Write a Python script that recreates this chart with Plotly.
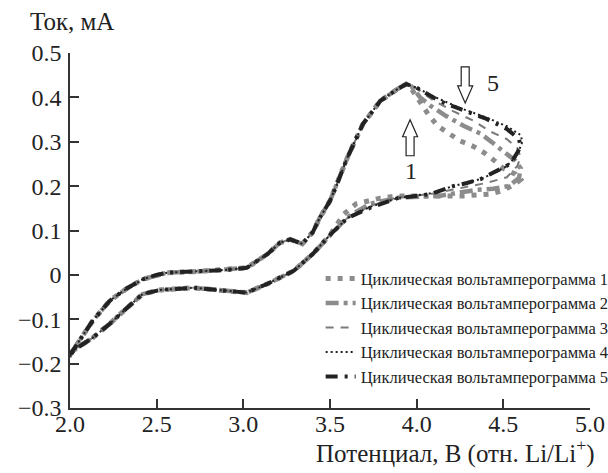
import plotly.graph_objects as go

# common anodic branch (rising part, up to the peak)
anodic_x = [2.00, 2.05, 2.13, 2.23, 2.33, 2.42, 2.50, 2.56, 2.71, 2.90, 3.02, 3.14, 3.21, 3.27, 3.34, 3.40, 3.44, 3.50, 3.54, 3.60, 3.69, 3.79, 3.89, 3.94]
anodic_y = [-0.180, -0.150, -0.104, -0.058, -0.030, -0.010, 0.000, 0.005, 0.007, 0.011, 0.016, 0.047, 0.072, 0.080, 0.070, 0.096, 0.128, 0.167, 0.204, 0.264, 0.340, 0.392, 0.419, 0.430]

# common cathodic branch (return part, from 3.5 V down to 2.0 V)
cathodic_x = [3.50, 3.40, 3.29, 3.14, 3.02, 2.90, 2.71, 2.52, 2.42, 2.33, 2.23, 2.13, 2.02, 2.00]
cathodic_y = [0.090, 0.047, 0.009, -0.020, -0.040, -0.036, -0.029, -0.034, -0.043, -0.074, -0.110, -0.142, -0.170, -0.185]

# curve-specific parts (after the peak, turning at 4.6 V and back)
tail1_x = [3.96, 4.02, 4.07, 4.12, 4.18, 4.25, 4.33, 4.39, 4.45, 4.50, 4.57, 4.60, 4.57, 4.49, 4.42, 4.27, 4.08, 3.89, 3.79, 3.65, 3.58]
tail1_y = [0.425, 0.387, 0.360, 0.336, 0.319, 0.302, 0.289, 0.275, 0.257, 0.240, 0.227, 0.215, 0.205, 0.189, 0.182, 0.178, 0.178, 0.178, 0.173, 0.160, 0.137]

tail2_x = [3.97, 4.02, 4.08, 4.17, 4.27, 4.37, 4.44, 4.51, 4.57, 4.60, 4.59, 4.53, 4.44, 4.35, 4.23, 4.13, 3.89, 3.73, 3.60]
tail2_y = [0.425, 0.400, 0.381, 0.358, 0.336, 0.318, 0.297, 0.275, 0.257, 0.240, 0.218, 0.200, 0.194, 0.192, 0.184, 0.178, 0.174, 0.160, 0.130]

tail3_x = [4.00, 4.10, 4.21, 4.33, 4.42, 4.52, 4.58, 4.60, 4.58, 4.52, 4.40, 4.25, 4.08, 3.89, 3.73, 3.60]
tail3_y = [0.420, 0.392, 0.369, 0.347, 0.324, 0.306, 0.286, 0.265, 0.245, 0.220, 0.207, 0.195, 0.182, 0.175, 0.155, 0.128]

tail4_x = [4.00, 4.08, 4.25, 4.40, 4.52, 4.60, 4.61, 4.58, 4.52, 4.46, 4.37, 4.21, 4.08, 3.89, 3.73, 3.60]
tail4_y = [0.422, 0.405, 0.376, 0.355, 0.335, 0.315, 0.300, 0.270, 0.245, 0.232, 0.216, 0.200, 0.184, 0.173, 0.153, 0.128]

tail5_x = [4.00, 4.08, 4.13, 4.25, 4.40, 4.52, 4.59, 4.60, 4.58, 4.54, 4.46, 4.37, 4.29, 4.21, 4.08, 3.89, 3.73, 3.60]
tail5_y = [0.422, 0.405, 0.392, 0.374, 0.352, 0.329, 0.306, 0.290, 0.275, 0.250, 0.234, 0.216, 0.207, 0.200, 0.182, 0.173, 0.151, 0.128]

names = ["Циклическая вольтамперограмма 1", "Циклическая вольтамперограмма 2",
         "Циклическая вольтамперограмма 3", "Циклическая вольтамперограмма 4",
         "Циклическая вольтамперограмма 5"]

x_ticks = [2.0, 2.5, 3.0, 3.5, 4.0, 4.5, 5.0]
x_ticktext = ["2.0", "2.5", "3.0", "3.5", "4.0", "4.5", "5.0"]
y_ticks = [0.5, 0.4, 0.3, 0.2, 0.1, 0.0, -0.1, -0.2, -0.3]
y_ticktext = ["0.5", "0.4", "0.3", "0.2", "0.1", "0", "−0.1", "−0.2", "−0.3"]

tails = [(tail1_x, tail1_y), (tail2_x, tail2_y), (tail3_x, tail3_y), (tail4_x, tail4_y), (tail5_x, tail5_y)]
styles = [
    dict(color="#8c8c8c", width=5, dash="5px,7px"),
    dict(color="#8c8c8c", width=4.5, dash="13px,5px,4px,5px"),
    dict(color="#7a7a7a", width=2, dash="8px,7px"),
    dict(color="#1e1e1e", width=2, dash="2px,3px"),
    dict(color="#222222", width=4, dash="12px,7px,3px,7px"),
]

fig = go.Figure()
for i, ((tx, ty), st) in enumerate(zip(tails, styles)):
    xs = anodic_x + tx + cathodic_x
    ys = anodic_y + ty + cathodic_y
    fig.add_trace(go.Scatter(x=xs, y=ys, mode="lines", name=names[i], line=st))

serif = "Liberation Serif"
ink = "#222222"

fig.update_layout(
    width=608, height=473,
    margin=dict(l=70, r=18, t=53, b=65, autoexpand=False),
    paper_bgcolor="white", plot_bgcolor="white",
    font=dict(family=serif, color=ink, size=22),
    showlegend=True,
    legend=dict(x=0.482, y=0.413, xanchor="left", yanchor="top",
                font=dict(family=serif, size=16.5, color=ink),
                bgcolor="rgba(0,0,0,0)", tracegroupgap=0),
    xaxis=dict(range=[2.0, 5.0], tickvals=x_ticks, ticktext=x_ticktext,
               ticks="inside", ticklen=9, tickwidth=1.5, tickcolor="#333333",
               showline=True, linecolor="#333333", linewidth=1.5,
               showgrid=False, zeroline=False, ticklabelstandoff=-7,
               tickfont=dict(family=serif, size=24, color=ink)),
    yaxis=dict(range=[-0.3, 0.5], tickvals=y_ticks, ticktext=y_ticktext,
               ticks="inside", ticklen=9, tickwidth=1.5, tickcolor="#333333",
               showline=True, linecolor="#333333", linewidth=1.5,
               showgrid=False, zeroline=False, ticklabelstandoff=2,
               tickfont=dict(family=serif, size=24, color=ink)),
)

fig.add_annotation(text="Ток, мА", xref="paper", yref="paper", x=-0.081, y=1.088,
                   xanchor="left", yanchor="middle", showarrow=False,
                   font=dict(family=serif, size=25, color=ink))
fig.add_annotation(text="Потенциал, В (отн. Li/Li<sup>+</sup>)", xref="paper", yref="paper",
                   x=1.012, y=-0.123, xanchor="right", yanchor="middle", showarrow=False,
                   font=dict(family=serif, size=25, color=ink))
fig.add_annotation(text="1", x=3.965, y=0.234, xref="x", yref="y", showarrow=False,
                   font=dict(family=serif, size=24, color=ink))
fig.add_annotation(text="5", x=4.44, y=0.432, xref="x", yref="y", showarrow=False,
                   font=dict(family=serif, size=24, color=ink))

# hollow block arrows (pixel-sized, anchored in data coordinates)
up_path = "M 0 18 L 7.5 1 L 4 1 L 4 -18 L -4 -18 L -4 1 L -7.5 1 Z"
down_path = "M 0 -18 L 7.5 -1 L 4 -1 L 4 18 L -4 18 L -4 -1 L -7.5 -1 Z"
fig.add_shape(type="path", path=up_path, xref="x", yref="y", xsizemode="pixel", ysizemode="pixel",
              xanchor=3.962, yanchor=0.309, line=dict(color=ink, width=1.2), fillcolor="white")
fig.add_shape(type="path", path=down_path, xref="x", yref="y", xsizemode="pixel", ysizemode="pixel",
              xanchor=4.28, yanchor=0.428, line=dict(color=ink, width=1.2), fillcolor="white")

fig.write_html("out.html")
